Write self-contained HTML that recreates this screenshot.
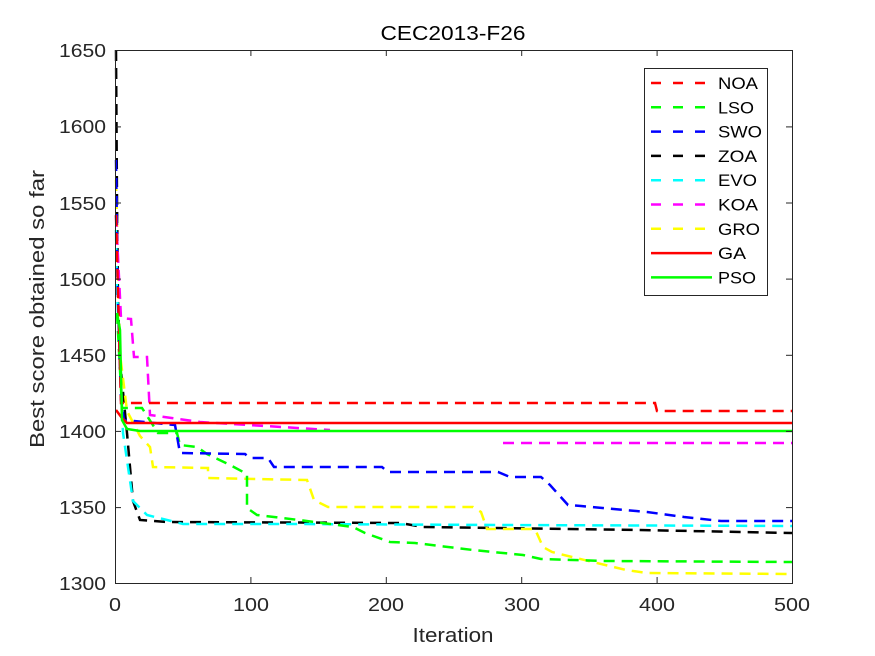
<!DOCTYPE html>
<html><head><meta charset="utf-8"><style>body{margin:0;background:#fff}svg{display:block}</style></head><body>
<svg width="875" height="656" viewBox="0 0 875 656" xmlns="http://www.w3.org/2000/svg" font-family="Liberation Sans, Arial, sans-serif">
<rect width="875" height="656" fill="#fff"/>
<g fill="none" stroke-width="2.5" stroke-dasharray="11,7">
<polyline stroke="#000" points="116,50 117,200 118,300 120,361 127,433 133,501 140,520 167,522 400,523 423,527 639,530 792,533"/>
<polyline stroke="#0ff" points="116,230 117,290 123,433 133,501 147,515 183,524 292,524 500,525 792,526"/>
<polyline stroke="#ff0" points="116,180 120,354 127,411 140,436 150,447 153,467 208,468 208,478 307,480 314,500 328,507 473,507 481,512 487,529 535,529 543,547 552,552 572,557 626,570 647,573 792,574"/>
<polyline stroke="#0f0" points="117,313 122,408 142,408 158,433 177,433 180,445 197,447 207,454 230,465 247,474 247,508 257,515 274,517 299,520 353,527 365,533 390,542 415,543 473,550 523,555 541,559 605,561 792,562"/>
<polyline stroke="#00f" points="116,160 118,300 121,400 124,420 175,425 180,453 245,454 250,458 268,458 274,467 382,467 388,472 498,472 510,477 541,477 550,485 568,505 581,506 647,512 684,517 721,521 792,521"/>
<polyline stroke="#f0f" points="116,216 121,318 131,319 134,357 147,357 150,415 200,422 330,430"/>
<polyline stroke="#f0f" points="503,443 792,443"/>
<polyline stroke="#f00" points="116,215 119,330 121,403 655,403 657,411 792,411"/>
</g>
<g fill="none" stroke-width="2.5">
<polyline stroke="#f00" points="116,410 122,418 127,423 792,423"/>
<polyline stroke="#0f0" points="117,313 120,330 122,420 127,429 140,431 792,431"/>
</g>
<rect x="115.5" y="50.5" width="677" height="533" fill="none" stroke="#262626" stroke-width="1"/>
<g stroke="#262626" stroke-width="1">
<line x1="250.9" y1="583" x2="250.9" y2="577"/><line x1="250.9" y1="50" x2="250.9" y2="56"/>
<line x1="386.3" y1="583" x2="386.3" y2="577"/><line x1="386.3" y1="50" x2="386.3" y2="56"/>
<line x1="521.7" y1="583" x2="521.7" y2="577"/><line x1="521.7" y1="50" x2="521.7" y2="56"/>
<line x1="657.1" y1="583" x2="657.1" y2="577"/><line x1="657.1" y1="50" x2="657.1" y2="56"/>
<line x1="115" y1="126.9" x2="121" y2="126.9"/><line x1="792" y1="126.9" x2="786" y2="126.9"/>
<line x1="115" y1="203" x2="121" y2="203"/><line x1="792" y1="203" x2="786" y2="203"/>
<line x1="115" y1="279.1" x2="121" y2="279.1"/><line x1="792" y1="279.1" x2="786" y2="279.1"/>
<line x1="115" y1="355.3" x2="121" y2="355.3"/><line x1="792" y1="355.3" x2="786" y2="355.3"/>
<line x1="115" y1="431.4" x2="121" y2="431.4"/><line x1="792" y1="431.4" x2="786" y2="431.4"/>
<line x1="115" y1="507.6" x2="121" y2="507.6"/><line x1="792" y1="507.6" x2="786" y2="507.6"/>
</g>
<g font-size="18" fill="#262626" text-anchor="middle">
<text x="115" y="611" textLength="12" lengthAdjust="spacingAndGlyphs">0</text>
<text x="251" y="611" textLength="36" lengthAdjust="spacingAndGlyphs">100</text>
<text x="386" y="611" textLength="36" lengthAdjust="spacingAndGlyphs">200</text>
<text x="522" y="611" textLength="36" lengthAdjust="spacingAndGlyphs">300</text>
<text x="657" y="611" textLength="36" lengthAdjust="spacingAndGlyphs">400</text>
<text x="792" y="611" textLength="36" lengthAdjust="spacingAndGlyphs">500</text>
</g>
<g font-size="18" fill="#262626" text-anchor="end">
<text x="106" y="57" textLength="47" lengthAdjust="spacingAndGlyphs">1650</text>
<text x="106" y="133" textLength="47" lengthAdjust="spacingAndGlyphs">1600</text>
<text x="106" y="210" textLength="47" lengthAdjust="spacingAndGlyphs">1550</text>
<text x="106" y="286" textLength="47" lengthAdjust="spacingAndGlyphs">1500</text>
<text x="106" y="362" textLength="47" lengthAdjust="spacingAndGlyphs">1450</text>
<text x="106" y="438" textLength="47" lengthAdjust="spacingAndGlyphs">1400</text>
<text x="106" y="514" textLength="47" lengthAdjust="spacingAndGlyphs">1350</text>
<text x="106" y="590" textLength="47" lengthAdjust="spacingAndGlyphs">1300</text>
</g>
<text x="453" y="642" font-size="20" fill="#262626" text-anchor="middle" textLength="81" lengthAdjust="spacingAndGlyphs">Iteration</text>
<text transform="translate(44,309) rotate(-90)" font-size="20" fill="#262626" text-anchor="middle" textLength="278" lengthAdjust="spacingAndGlyphs">Best score obtained so far</text>
<text x="453" y="40" font-size="20" fill="#000" text-anchor="middle" textLength="145" lengthAdjust="spacingAndGlyphs">CEC2013-F26</text>
<rect x="644.5" y="68.5" width="123" height="227" fill="#fff" stroke="#262626" stroke-width="1"/>
<g stroke-width="2.5" fill="none">
<line x1="651" y1="83" x2="712" y2="83" stroke="#f00" stroke-dasharray="10,12"/>
<line x1="651" y1="107.3" x2="712" y2="107.3" stroke="#0f0" stroke-dasharray="10,12"/>
<line x1="651" y1="131.6" x2="712" y2="131.6" stroke="#00f" stroke-dasharray="10,12"/>
<line x1="651" y1="155.9" x2="712" y2="155.9" stroke="#000" stroke-dasharray="10,12"/>
<line x1="651" y1="180.2" x2="712" y2="180.2" stroke="#0ff" stroke-dasharray="10,12"/>
<line x1="651" y1="204.5" x2="712" y2="204.5" stroke="#f0f" stroke-dasharray="10,12"/>
<line x1="651" y1="228.8" x2="712" y2="228.8" stroke="#ff0" stroke-dasharray="10,12"/>
<line x1="651" y1="253.1" x2="712" y2="253.1" stroke="#f00"/>
<line x1="651" y1="277.4" x2="712" y2="277.4" stroke="#0f0"/>
</g>
<g font-size="17" fill="#000">
<text x="718" y="89" textLength="40" lengthAdjust="spacingAndGlyphs">NOA</text>
<text x="718" y="113.3" textLength="36" lengthAdjust="spacingAndGlyphs">LSO</text>
<text x="718" y="137.6" textLength="44" lengthAdjust="spacingAndGlyphs">SWO</text>
<text x="718" y="161.9" textLength="39" lengthAdjust="spacingAndGlyphs">ZOA</text>
<text x="718" y="186.2" textLength="39" lengthAdjust="spacingAndGlyphs">EVO</text>
<text x="718" y="210.5" textLength="40" lengthAdjust="spacingAndGlyphs">KOA</text>
<text x="718" y="234.8" textLength="42" lengthAdjust="spacingAndGlyphs">GRO</text>
<text x="718" y="259.1" textLength="28" lengthAdjust="spacingAndGlyphs">GA</text>
<text x="718" y="283.4" textLength="38" lengthAdjust="spacingAndGlyphs">PSO</text>
</g>
</svg>
</body></html>
